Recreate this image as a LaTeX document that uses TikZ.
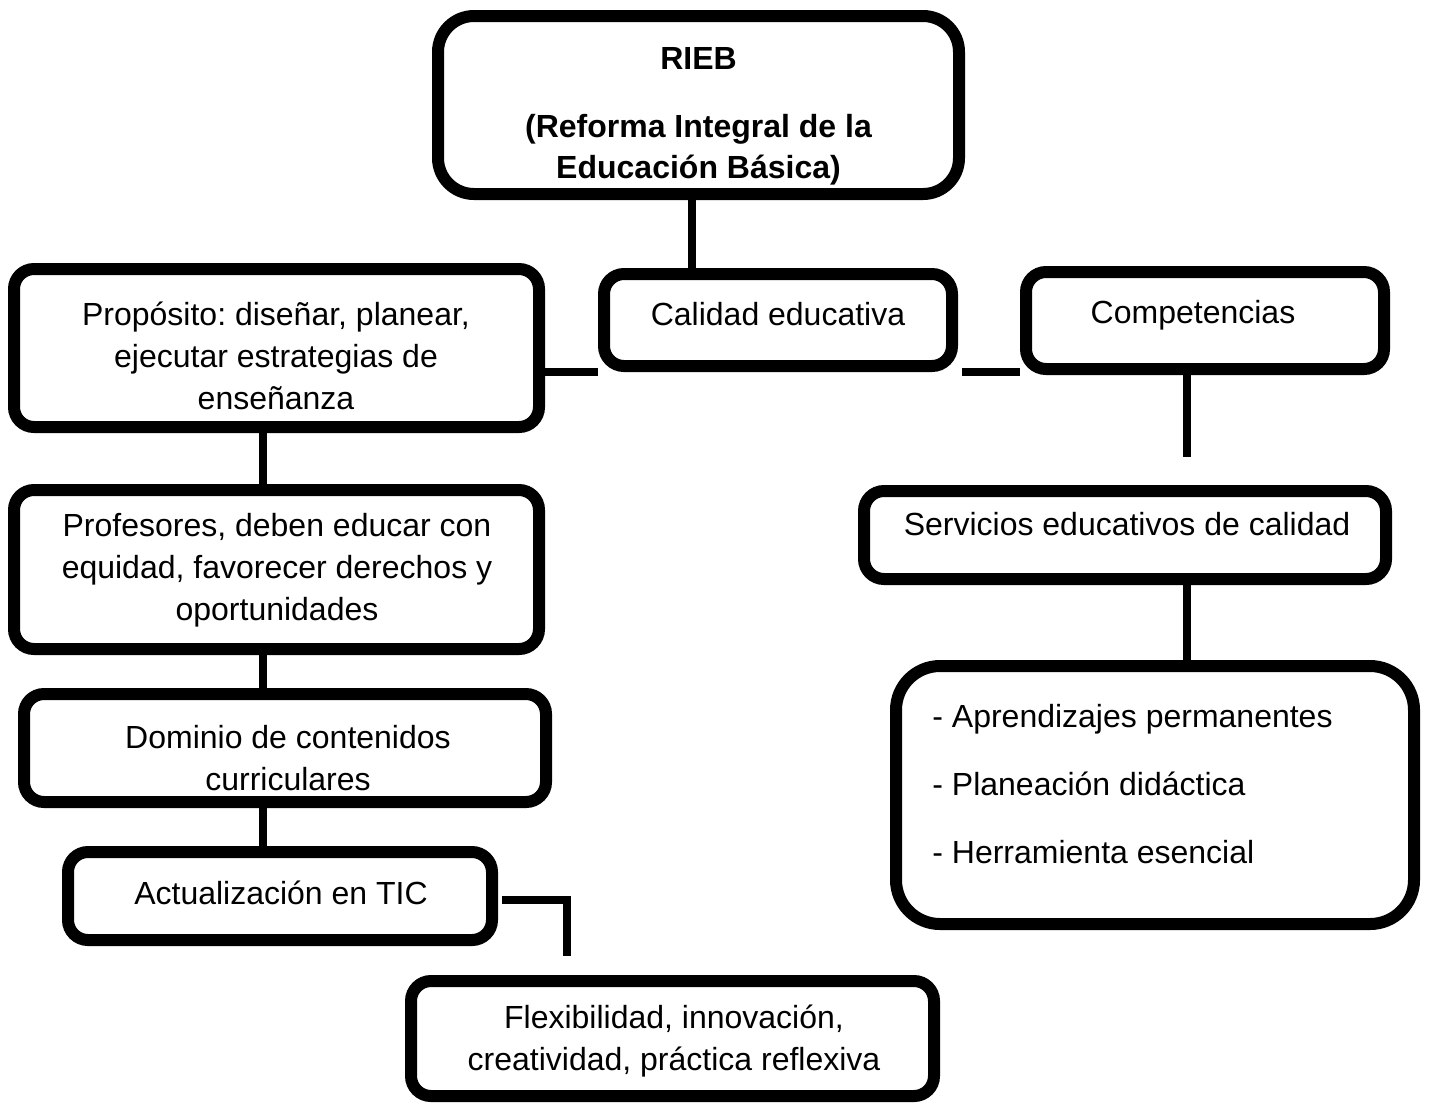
\documentclass[tikz,border=0pt]{standalone}
\usepackage{fontspec}
\setmainfont{Liberation Sans}
\frenchspacing
\begin{document}
\begin{tikzpicture}[x=0.5pt,y=-0.5pt,
  box/.style={draw,line width=6pt,rounded corners=10pt,inner sep=0pt},
  conn/.style={line width=4pt},
  lbl/.style={font=\fontsize{16}{21}\selectfont,align=center,inner sep=0pt}]
\fill[white] (0,0) rectangle (1434,1105);
\useasboundingbox (0,0) rectangle (1434,1105);
% boxes
\node[box,minimum width=260.5pt,minimum height=89pt,rounded corners=18pt] (rieb) at (698.5,105) {};
\node[box,minimum width=174pt,minimum height=46pt] (cal) at (778,320) {};
\node[box,minimum width=262.5pt,minimum height=79pt] (prop) at (276.5,348) {};
\node[box,minimum width=179pt,minimum height=48.5pt] (comp) at (1205,320.5) {};
\node[box,minimum width=261pt,minimum height=44pt] (serv) at (1125,535) {};
\node[box,minimum width=259pt,minimum height=129pt,rounded corners=22pt] (list) at (1155,795) {};
\node[box,minimum width=262.5pt,minimum height=79.5pt] (prof) at (276.5,569.5) {};
\node[box,minimum width=261pt,minimum height=54pt] (dom) at (285,748) {};
\node[box,minimum width=212pt,minimum height=44pt] (act) at (280,896) {};
\node[box,minimum width=261.5pt,minimum height=57.5pt] (flex) at (672.5,1038.5) {};
% texts
\node[lbl,font=\fontsize{16}{20.5}\selectfont\bfseries] (riebt) at (698.5,116.5) {RIEB\\[13.5pt](Reforma Integral de la\\Educación Básica)};
\node[lbl] (calt) at (778,314) {Calidad educativa};
\node[lbl] (compt) at (1193,315) {Competencias};
\node[lbl] (propt) at (276,356) {Propósito: diseñar, planear,\\ejecutar estrategias de\\enseñanza};
\node[lbl] (proft) at (277,570) {Profesores, deben educar con\\equidad, favorecer derechos y\\oportunidades};
\node[lbl] (domt) at (288,758) {Dominio de contenidos\\curriculares};
\node[lbl] (actt) at (281,893) {Actualización en TIC};
\node[lbl] (flext) at (674,1041) {Flexibilidad, innovación,\\creatividad, práctica reflexiva};
\node[lbl] (servt) at (1127,524) {Servicios educativos de calidad};
\node[lbl,align=left,anchor=west,font=\fontsize{16}{34}\selectfont] (listt) at (932,784) {- Aprendizajes permanentes\\- Planeación didáctica\\- Herramienta esencial};
% connectors
\coordinate (xa) at (692,0);
\draw[conn] (rieb.south -| xa) -- (cal.north -| xa);
\coordinate (ya) at (0,372);
\draw[conn] (prop.east |- ya) -- (cal.west |- ya);
\draw[conn,shorten <=2pt] (cal.east |- ya) -- (comp.west |- ya);
\coordinate (xb) at (1187,0);
\draw[conn,shorten >=14pt] (comp.south -| xb) -- (serv.north -| xb);
\draw[conn] (serv.south -| xb) -- (list.north -| xb);
\coordinate (xl) at (263,0);
\draw[conn] (prop.south -| xl) -- (prof.north -| xl);
\draw[conn] (prof.south -| xl) -- (dom.north -| xl);
\draw[conn] (dom.south -| xl) -- (act.north -| xl);
\coordinate (yc) at (0,900);
\coordinate (xc) at (567,0);
\draw[conn,shorten <=2pt,shorten >=9.5pt] (act.east |- yc) -| (flex.north -| xc);
\end{tikzpicture}
\end{document}
